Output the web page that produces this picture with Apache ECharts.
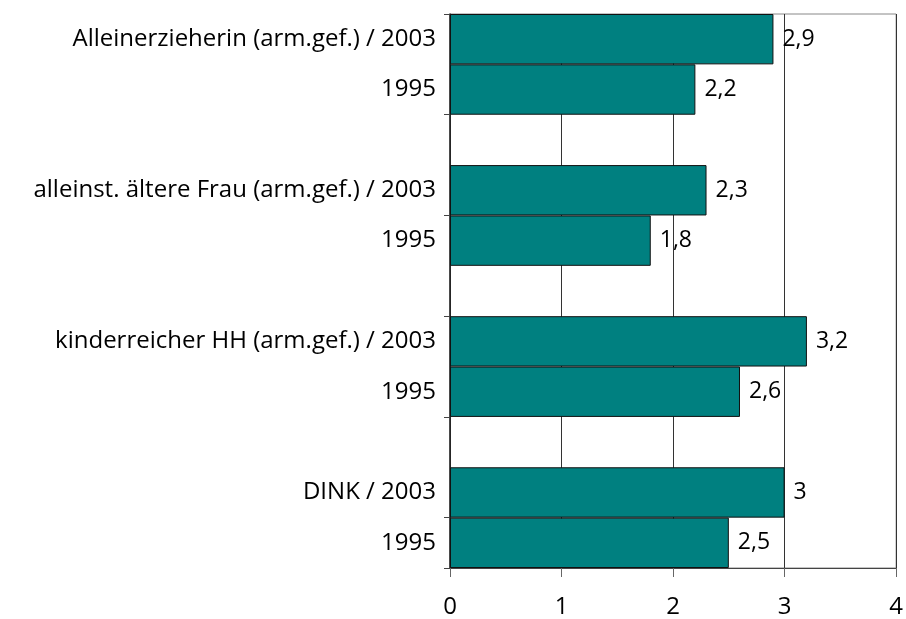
<!DOCTYPE html>
<html>
<head>
<meta charset="utf-8">
<script src="https://cdn.jsdelivr.net/npm/echarts@6/dist/echarts.min.js"></script>
<style>
  html, body { margin: 0; padding: 0; background: #fff; }
  #chart { width: 906px; height: 619px; }
</style>
</head>
<body>
<div id="chart"></div>
<script>
// data
const groups = ['Alleinerzieherin (arm.gef.)', 'alleinst. ältere Frau (arm.gef.)', 'kinderreicher HH (arm.gef.)', 'DINK'];
const values2003 = [2.9, 2.3, 3.2, 3];
const values1995 = [2.2, 1.8, 2.6, 2.5];
const xTicks = [0, 1, 2, 3, 4];

const FONT = 'Open Sans';

// categories with an empty row between the groups
let categories = [];
let values = [];
groups.forEach(function (g, i) {
    categories.push(g + ' / 2003', '1995');
    values.push(values2003[i], values1995[i]);
    if (i < groups.length - 1) {
        categories.push('');
        values.push('-');
    }
});

const chart = echarts.init(document.getElementById('chart'));

const option = {
    animation: false,
    grid: {
        left: 450,
        right: 8,
        top: 14,
        bottom: 51,
        show: true,
        borderColor: '#888',
        borderWidth: 1
    },
    xAxis: {
        type: 'value',
        min: xTicks[0],
        max: xTicks[xTicks.length - 1],
        interval: 1,
        axisLine: { show: true, lineStyle: { color: '#444', width: 1 } },
        axisTick: { show: true, length: 9, lineStyle: { color: '#666' } },
        splitLine: { show: true, lineStyle: { color: '#333', width: 1 } },
        axisLabel: {
            color: '#000',
            fontFamily: FONT,
            fontSize: 24,
            margin: 27
        }
    },
    yAxis: {
        type: 'category',
        inverse: true,
        data: categories,
        axisLine: { show: true, lineStyle: { color: '#222', width: 1.5 } },
        axisTick: {
            show: true,
            length: 6,
            interval: 1,
            lineStyle: { color: '#444' }
        },
        axisLabel: {
            color: '#000',
            fontFamily: FONT,
            fontSize: 24,
            margin: 14,
            interval: 0
        }
    },
    series: [{
        type: 'bar',
        data: values,
        barWidth: '100%',
        itemStyle: {
            color: '#008080',
            borderColor: '#111',
            borderWidth: 1
        },
        label: {
            show: true,
            position: 'right',
            distance: 9,
            color: '#000',
            fontFamily: FONT,
            fontSize: 23,
            formatter: function (p) {
                return String(p.value).replace('.', ',');
            }
        }
    }]
};

chart.setOption(option);
</script>
</body>
</html>
